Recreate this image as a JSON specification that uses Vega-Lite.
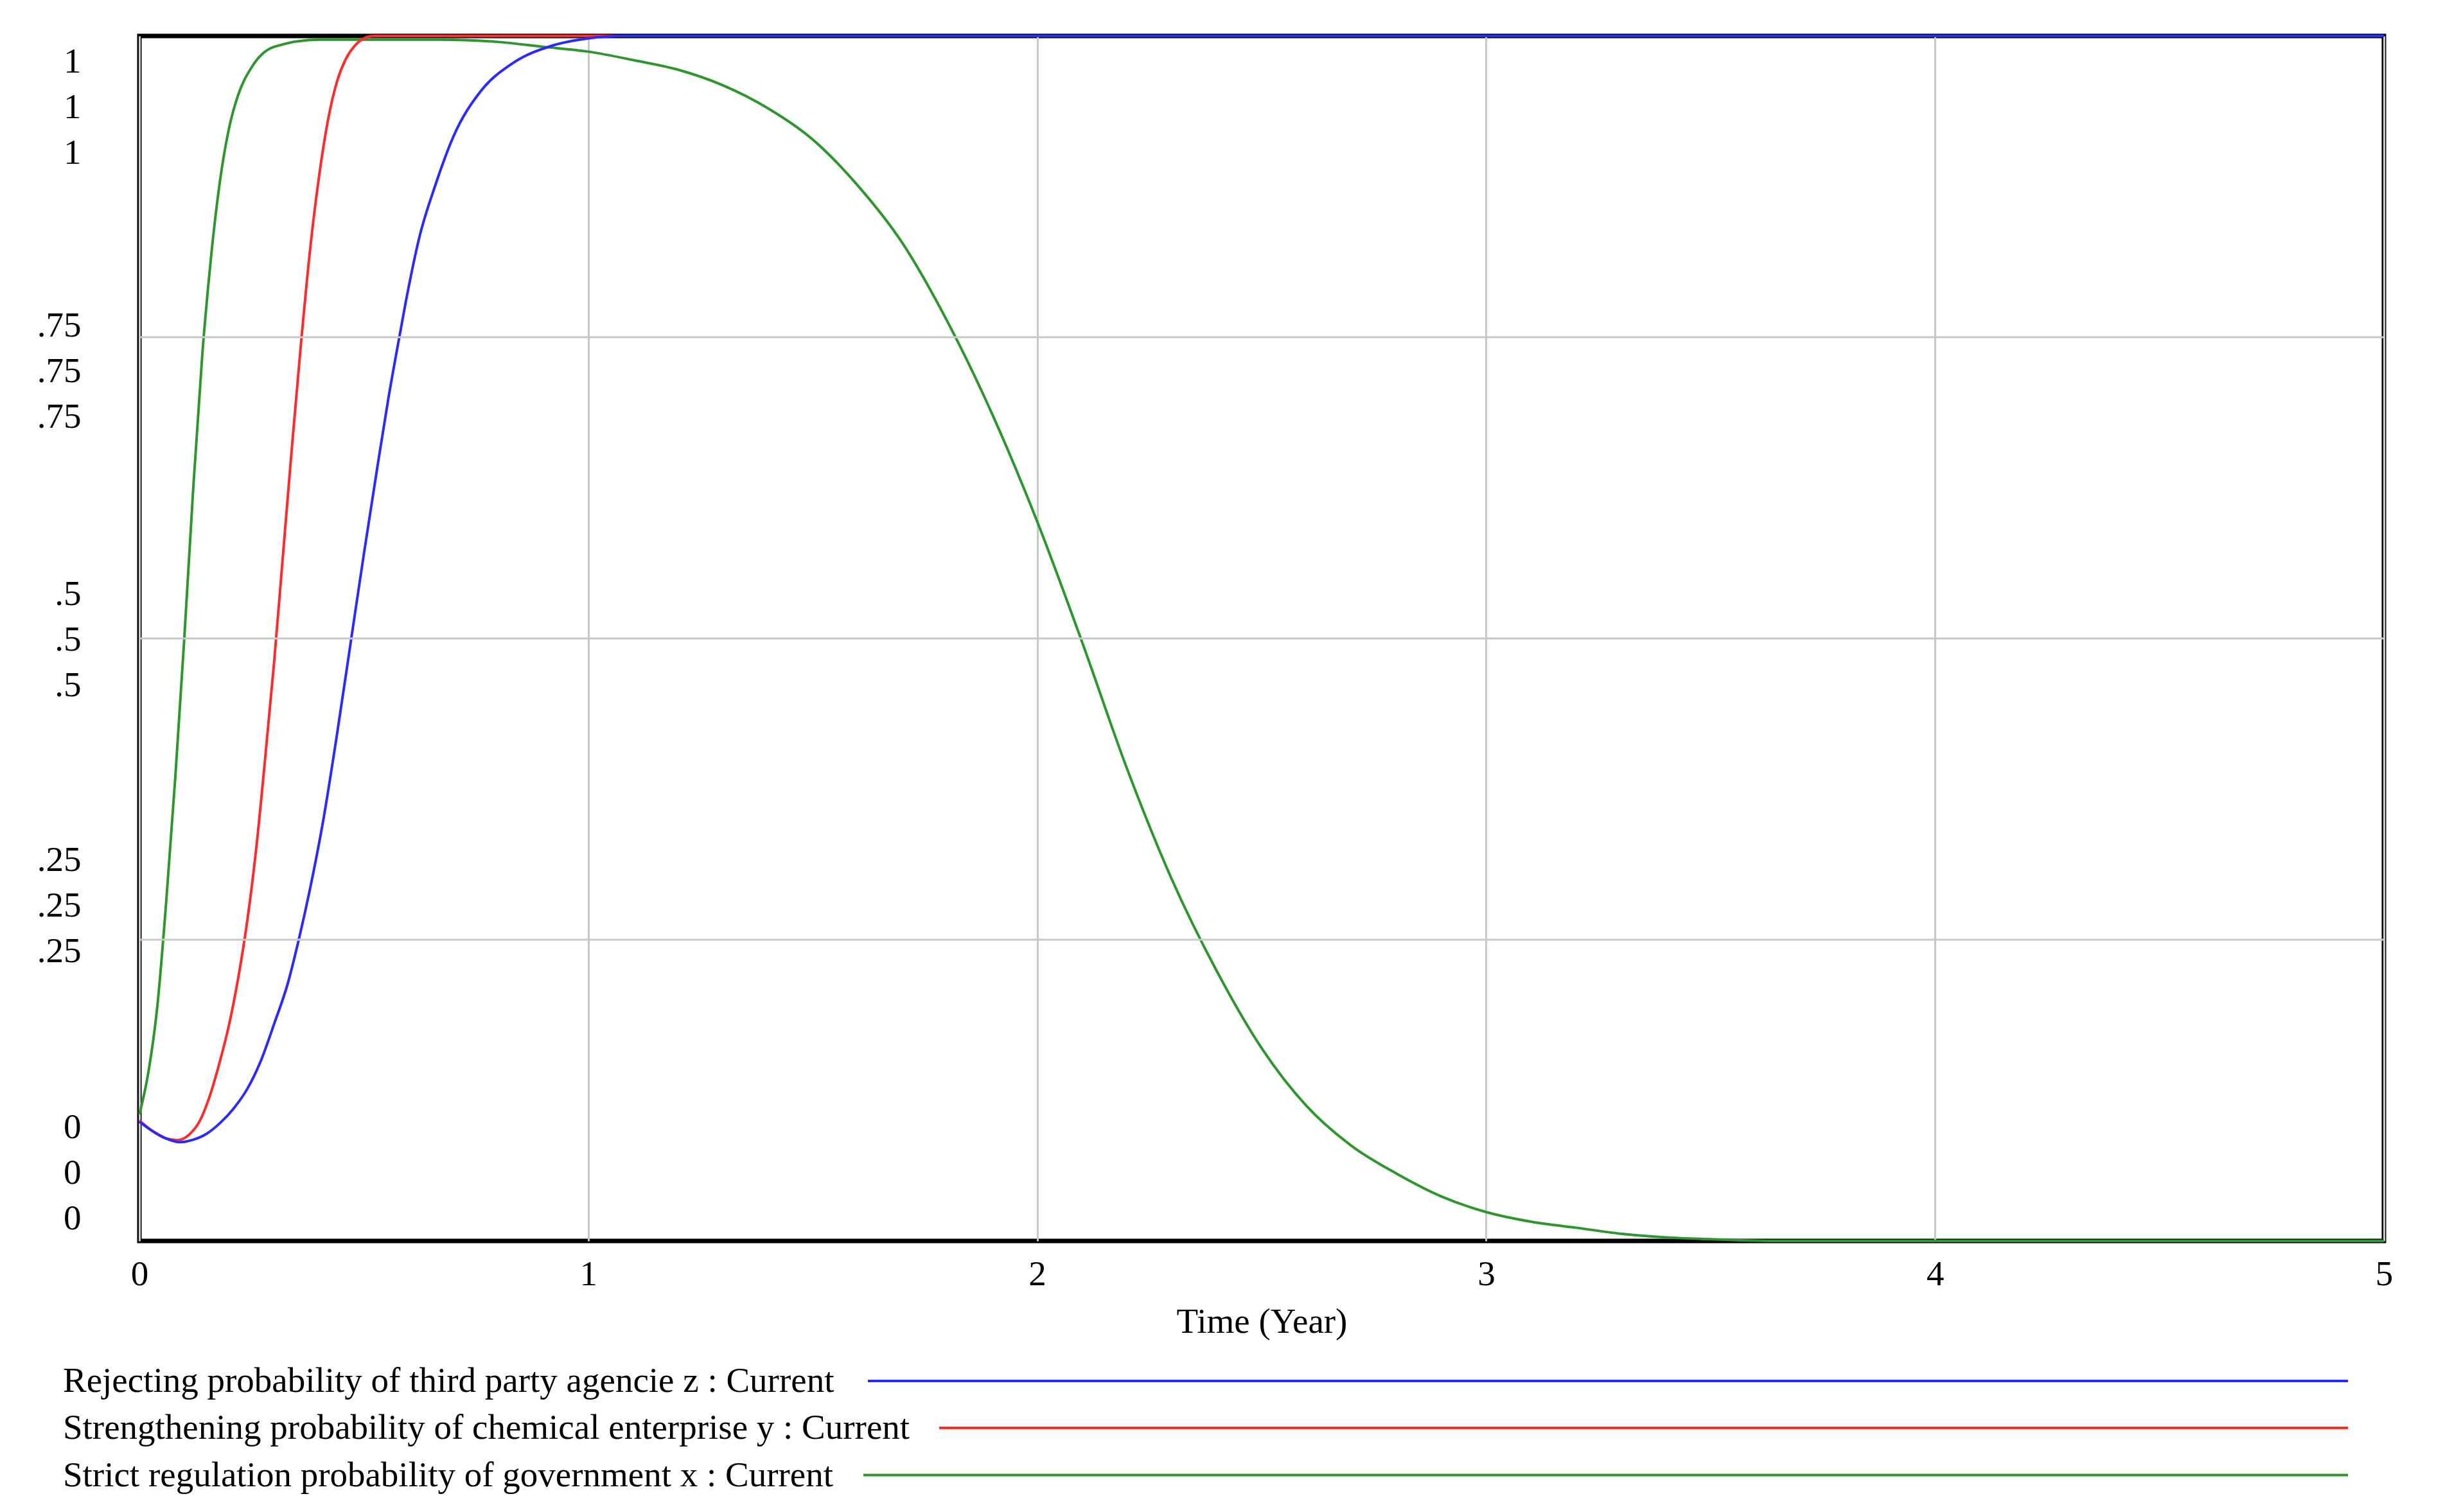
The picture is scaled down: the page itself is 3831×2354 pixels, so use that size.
{
  "$schema": "https://vega.github.io/schema/vega-lite/v6.json",
  "width": 3494,
  "height": 1876,
  "autosize": {"type": "none"},
  "padding": {"left": 217, "top": 56, "right": 120, "bottom": 422},
  "background": "white",
  "config": {
    "view": {"stroke": "#000000", "strokeWidth": 7},
    "axis": {"labelFont": "Liberation Serif", "titleFont": "Liberation Serif", "labelColor": "#000000", "titleColor": "#000000"}
  },
  "datasets": {
    "curves": [
      {"t": 0, "v": 0.105, "series": "x"}, {"t": 0.02, "v": 0.14, "series": "x"}, {"t": 0.04, "v": 0.195, "series": "x"}, {"t": 0.06, "v": 0.283, "series": "x"}, {"t": 0.08, "v": 0.385, "series": "x"}, {"t": 0.1, "v": 0.5, "series": "x"}, {"t": 0.12, "v": 0.625, "series": "x"}, {"t": 0.14, "v": 0.735, "series": "x"}, {"t": 0.16, "v": 0.818, "series": "x"}, {"t": 0.18, "v": 0.881, "series": "x"}, {"t": 0.2, "v": 0.924, "series": "x"}, {"t": 0.22, "v": 0.951, "series": "x"}, {"t": 0.25, "v": 0.974, "series": "x"}, {"t": 0.3, "v": 0.991, "series": "x"}, {"t": 0.4, "v": 0.997, "series": "x"}, {"t": 0.67, "v": 0.997, "series": "x"}, {"t": 0.8, "v": 0.995, "series": "x"}, {"t": 0.9, "v": 0.991, "series": "x"}, {"t": 1.0, "v": 0.987, "series": "x"}, {"t": 1.1, "v": 0.98, "series": "x"}, {"t": 1.2, "v": 0.972, "series": "x"}, {"t": 1.3, "v": 0.959, "series": "x"}, {"t": 1.4, "v": 0.94, "series": "x"}, {"t": 1.5, "v": 0.914, "series": "x"}, {"t": 1.6, "v": 0.876, "series": "x"}, {"t": 1.7, "v": 0.828, "series": "x"}, {"t": 1.8, "v": 0.763, "series": "x"}, {"t": 1.9, "v": 0.686, "series": "x"}, {"t": 2.0, "v": 0.597, "series": "x"}, {"t": 2.1, "v": 0.497, "series": "x"}, {"t": 2.2, "v": 0.392, "series": "x"}, {"t": 2.3, "v": 0.3, "series": "x"}, {"t": 2.4, "v": 0.224, "series": "x"}, {"t": 2.5, "v": 0.16, "series": "x"}, {"t": 2.6, "v": 0.112, "series": "x"}, {"t": 2.7, "v": 0.079, "series": "x"}, {"t": 2.8, "v": 0.056, "series": "x"}, {"t": 2.9, "v": 0.037, "series": "x"}, {"t": 3.0, "v": 0.024, "series": "x"}, {"t": 3.1, "v": 0.016, "series": "x"}, {"t": 3.2, "v": 0.011, "series": "x"}, {"t": 3.3, "v": 0.006, "series": "x"}, {"t": 3.4, "v": 0.003, "series": "x"}, {"t": 3.5, "v": 0.0015, "series": "x"}, {"t": 3.65, "v": 0.0, "series": "x"}, {"t": 5, "v": 0.0, "series": "x"},
      {"t": 0, "v": 0.1, "series": "y"}, {"t": 0.03, "v": 0.091, "series": "y"}, {"t": 0.06, "v": 0.085, "series": "y"}, {"t": 0.085, "v": 0.0837, "series": "y"}, {"t": 0.11, "v": 0.088, "series": "y"}, {"t": 0.135, "v": 0.1, "series": "y"}, {"t": 0.16, "v": 0.124, "series": "y"}, {"t": 0.18, "v": 0.15, "series": "y"}, {"t": 0.2, "v": 0.18, "series": "y"}, {"t": 0.22, "v": 0.218, "series": "y"}, {"t": 0.24, "v": 0.265, "series": "y"}, {"t": 0.26, "v": 0.325, "series": "y"}, {"t": 0.28, "v": 0.4, "series": "y"}, {"t": 0.3, "v": 0.48, "series": "y"}, {"t": 0.32, "v": 0.57, "series": "y"}, {"t": 0.34, "v": 0.66, "series": "y"}, {"t": 0.36, "v": 0.745, "series": "y"}, {"t": 0.38, "v": 0.822, "series": "y"}, {"t": 0.4, "v": 0.883, "series": "y"}, {"t": 0.42, "v": 0.93, "series": "y"}, {"t": 0.44, "v": 0.962, "series": "y"}, {"t": 0.46, "v": 0.981, "series": "y"}, {"t": 0.48, "v": 0.992, "series": "y"}, {"t": 0.5, "v": 0.998, "series": "y"}, {"t": 0.52, "v": 1.0, "series": "y"}, {"t": 5, "v": 1.0, "series": "y"},
      {"t": 0, "v": 0.099, "series": "z"}, {"t": 0.03, "v": 0.091, "series": "z"}, {"t": 0.06, "v": 0.085, "series": "z"}, {"t": 0.09, "v": 0.082, "series": "z"}, {"t": 0.12, "v": 0.084, "series": "z"}, {"t": 0.15, "v": 0.089, "series": "z"}, {"t": 0.18, "v": 0.098, "series": "z"}, {"t": 0.21, "v": 0.11, "series": "z"}, {"t": 0.24, "v": 0.126, "series": "z"}, {"t": 0.27, "v": 0.149, "series": "z"}, {"t": 0.3, "v": 0.18, "series": "z"}, {"t": 0.33, "v": 0.213, "series": "z"}, {"t": 0.355, "v": 0.25, "series": "z"}, {"t": 0.38, "v": 0.292, "series": "z"}, {"t": 0.41, "v": 0.35, "series": "z"}, {"t": 0.44, "v": 0.42, "series": "z"}, {"t": 0.472, "v": 0.5, "series": "z"}, {"t": 0.5, "v": 0.57, "series": "z"}, {"t": 0.53, "v": 0.642, "series": "z"}, {"t": 0.555, "v": 0.7, "series": "z"}, {"t": 0.579, "v": 0.75, "series": "z"}, {"t": 0.6, "v": 0.792, "series": "z"}, {"t": 0.623, "v": 0.832, "series": "z"}, {"t": 0.66, "v": 0.877, "series": "z"}, {"t": 0.7, "v": 0.917, "series": "z"}, {"t": 0.76, "v": 0.954, "series": "z"}, {"t": 0.83, "v": 0.977, "series": "z"}, {"t": 0.92, "v": 0.992, "series": "z"}, {"t": 1.0, "v": 0.998, "series": "z"}, {"t": 1.075, "v": 1.0, "series": "z"}, {"t": 5, "v": 1.0, "series": "z"}
    ],
    "grid": [{"g": 0.25}, {"g": 0.5}, {"g": 0.75}]
  },
  "layer": [
    {
      "data": {"name": "curves"},
      "mark": {"type": "line", "strokeWidth": 4, "interpolate": "monotone"},
      "encoding": {
        "x": {"field": "t", "type": "quantitative", "scale": {"domain": [0, 5], "nice": false},
          "axis": {"values": [0, 1, 2, 3, 4, 5], "format": "d", "grid": true, "gridColor": "#c8c8c8", "gridWidth": 3, "ticks": false, "domain": false, "labelFontSize": 55, "labelPadding": 25, "labelFlush": false, "labelOverlap": false, "title": "Time (Year)", "titleFontSize": 55, "titleFontWeight": "normal", "titlePadding": 20}},
        "y": {"field": "v", "type": "quantitative", "scale": {"domain": [0, 1], "nice": false},
          "axis": {"values": [0.0944, 0.3161, 0.5368, 0.7596, 0.9792], "labelExpr": "datum.value > 0.9 ? ['1','1','1'] : datum.value > 0.7 ? ['.75','.75','.75'] : datum.value > 0.45 ? ['.5','.5','.5'] : datum.value > 0.2 ? ['.25','.25','.25'] : ['0','0','0']", "grid": false, "ticks": false, "domain": false, "labelFontSize": 55, "labelLineHeight": 71, "labelBaseline": "middle", "labelPadding": 91, "labelOverlap": false, "labelBound": false, "labelFlush": false, "title": null}},
        "color": {"field": "series", "type": "nominal", "scale": {"domain": ["z", "y", "x"], "range": ["#2a2aff", "#ff2a2a", "#2e962e"]}, "legend": null}
      }
    },
    {
      "data": {"name": "grid"},
      "mark": {"type": "rule", "color": "#c8c8c8", "strokeWidth": 3},
      "encoding": {"y": {"field": "g", "type": "quantitative"}}
    },
    {
      "data": {"values": [{"series": "z", "label": "Rejecting probability of third party agencie z : Current"}]},
      "layer": [
        {"mark": {"type": "text", "font": "Liberation Serif", "fontSize": 55, "align": "left", "baseline": "middle", "color": "#000000"},
         "encoding": {"x": {"datum": -0.1703}, "y": {"datum": -0.1162}, "text": {"field": "label"}}},
        {"mark": {"type": "rule", "strokeWidth": 4},
         "encoding": {"x": {"datum": 1.6228}, "x2": {"datum": 4.92}, "y": {"datum": -0.1162}, "color": {"field": "series", "type": "nominal", "legend": null}}}
      ]
    },
    {
      "data": {"values": [{"series": "y", "label": "Strengthening probability of chemical enterprise y : Current"}]},
      "layer": [
        {"mark": {"type": "text", "font": "Liberation Serif", "fontSize": 55, "align": "left", "baseline": "middle", "color": "#000000"},
         "encoding": {"x": {"datum": -0.1703}, "y": {"datum": -0.1551}, "text": {"field": "label"}}},
        {"mark": {"type": "rule", "strokeWidth": 4},
         "encoding": {"x": {"datum": 1.7817}, "x2": {"datum": 4.92}, "y": {"datum": -0.1551}, "color": {"field": "series", "type": "nominal", "legend": null}}}
      ]
    },
    {
      "data": {"values": [{"series": "x", "label": "Strict regulation probability of government x : Current"}]},
      "layer": [
        {"mark": {"type": "text", "font": "Liberation Serif", "fontSize": 55, "align": "left", "baseline": "middle", "color": "#000000"},
         "encoding": {"x": {"datum": -0.1703}, "y": {"datum": -0.1943}, "text": {"field": "label"}}},
        {"mark": {"type": "rule", "strokeWidth": 4},
         "encoding": {"x": {"datum": 1.6128}, "x2": {"datum": 4.92}, "y": {"datum": -0.1943}, "color": {"field": "series", "type": "nominal", "legend": null}}}
      ]
    }
  ]
}
